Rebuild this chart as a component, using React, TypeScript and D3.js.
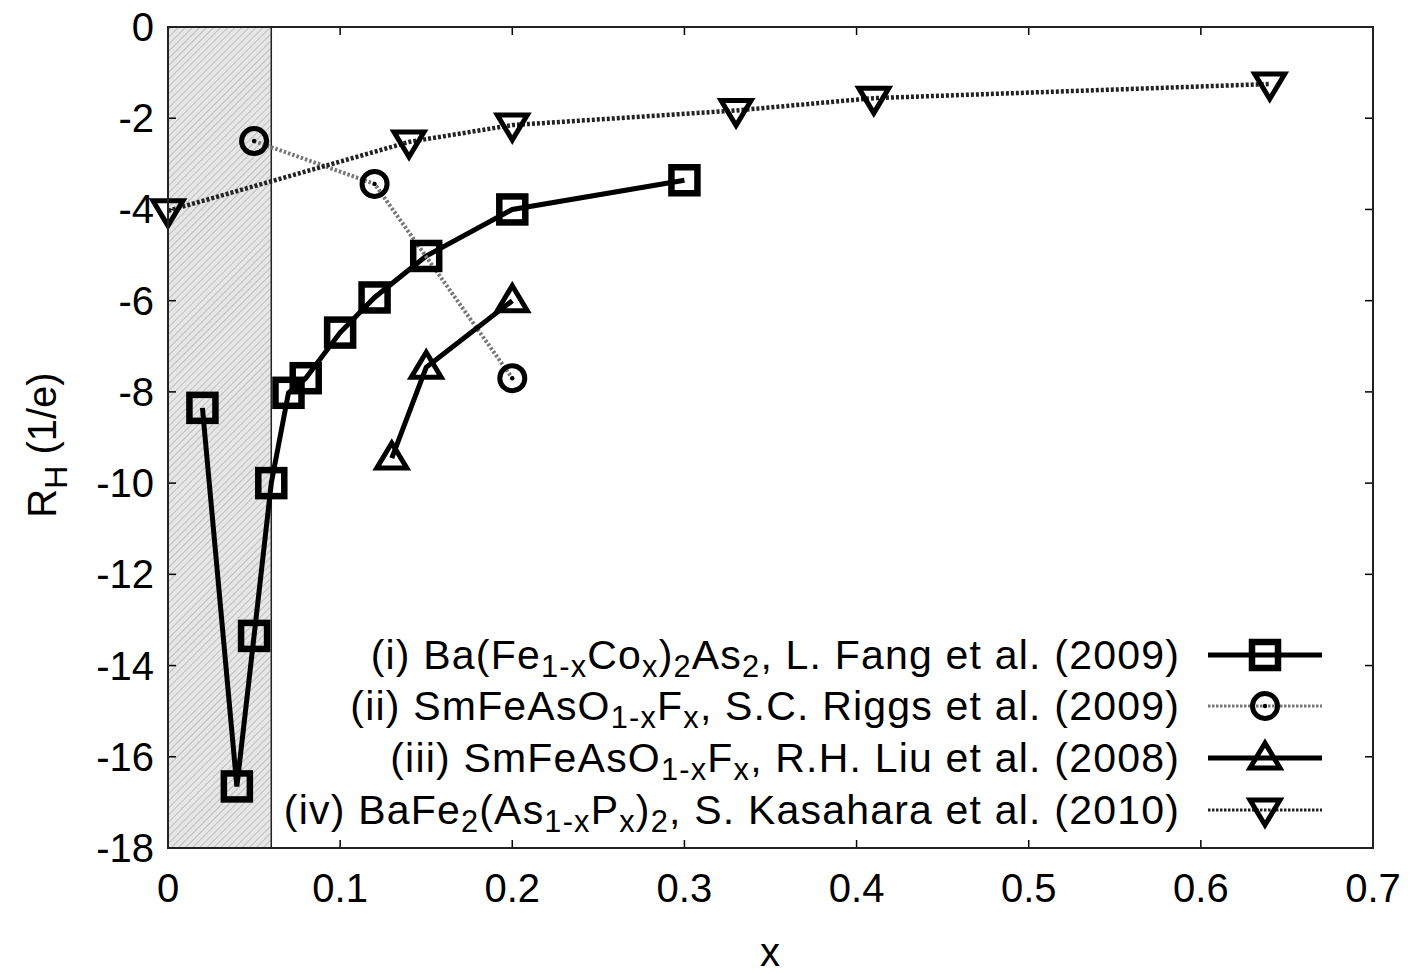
import React from "react";
import * as d3 from "d3";

// series (i) Ba(Fe1-xCox)2As2, L. Fang et al.
const fangX = [0.02, 0.04, 0.05, 0.06, 0.07, 0.08, 0.1, 0.12, 0.15, 0.2, 0.3];
const fangY = [-8.35, -16.65, -13.35, -10.0, -8.02, -7.7, -6.7, -5.93, -5.02, -4.0, -3.36];
// series (ii) SmFeAsO1-xFx, S.C. Riggs et al.
const riggsX = [0.05, 0.12, 0.2];
const riggsY = [-2.5, -3.44, -7.7];
// series (iii) SmFeAsO1-xFx, R.H. Liu et al.
const liuX = [0.13, 0.15, 0.2];
const liuY = [-9.45, -7.46, -6.0];
// series (iv) BaFe2(As1-xPx)2, S. Kasahara et al.
const kasaharaX = [0, 0.14, 0.2, 0.33, 0.41, 0.64];
const kasaharaY = [-4.03, -2.52, -2.15, -1.83, -1.56, -1.25];

const xTicks = [0, 0.1, 0.2, 0.3, 0.4, 0.5, 0.6, 0.7];
const yTicks = [0, -2, -4, -6, -8, -10, -12, -14, -16, -18];
const shadeEnd = 0.06;

type Part = { t: string; sub?: boolean };
const legendLabels: Part[][] = [
  [{ t: "(i) Ba(Fe" }, { t: "1-x", sub: true }, { t: "Co" }, { t: "x", sub: true }, { t: ")" }, { t: "2", sub: true }, { t: "As" }, { t: "2", sub: true }, { t: ", L. Fang et al. (2009)" }],
  [{ t: "(ii) SmFeAsO" }, { t: "1-x", sub: true }, { t: "F" }, { t: "x", sub: true }, { t: ", S.C. Riggs et al. (2009)" }],
  [{ t: "(iii) SmFeAsO" }, { t: "1-x", sub: true }, { t: "F" }, { t: "x", sub: true }, { t: ", R.H. Liu et al. (2008)" }],
  [{ t: "(iv) BaFe" }, { t: "2", sub: true }, { t: "(As" }, { t: "1-x", sub: true }, { t: "P" }, { t: "x", sub: true }, { t: ")" }, { t: "2", sub: true }, { t: ", S. Kasahara et al. (2010)" }],
];

const W = 1412;
const H = 974;
const left = 168;
const right = 1373;
const top = 27;
const bottom = 848;
const font = "'Liberation Sans', Arial, sans-serif";
const fs = 40;
const legendFs = 41;

type Marker = "square" | "circle" | "tri" | "itri";
type Series = { xs: number[]; ys: number[]; marker: Marker; dash?: string; color: string; width: number };

const series: Series[] = [
  { xs: fangX, ys: fangY, marker: "square", color: "#000", width: 5 },
  { xs: riggsX, ys: riggsY, marker: "circle", dash: "2.5 2", color: "#777", width: 4 },
  { xs: liuX, ys: liuY, marker: "tri", color: "#000", width: 5 },
  { xs: kasaharaX, ys: kasaharaY, marker: "itri", dash: "3 2", color: "#222", width: 4.5 },
];

function MarkerShape({ kind, x, y }: { kind: Marker; x: number; y: number }) {
  const common = { fill: "none", stroke: "#000", strokeWidth: 5.5 };
  if (kind === "square") return <rect x={x - 13} y={y - 13} width={26} height={26} {...common} strokeWidth={6.5} />;
  if (kind === "circle")
    return (
      <g>
        <circle cx={x} cy={y} r={12.5} {...common} strokeWidth={5} />
        <circle cx={x} cy={y} r={2.2} fill="#000" />
      </g>
    );
  if (kind === "tri")
    return <path d={`M${x},${y - 15}L${x + 15},${y + 10}L${x - 15},${y + 10}Z`} {...common} strokeWidth={5} strokeLinejoin="miter" />;
  return <path d={`M${x},${y + 15}L${x + 15},${y - 10}L${x - 15},${y - 10}Z`} {...common} strokeWidth={5} strokeLinejoin="miter" />;
}

function RichText({ parts, size, shift = 0.28, subScale = 0.8 }: { parts: Part[]; size: number; shift?: number; subScale?: number }) {
  const out: React.ReactNode[] = [];
  let shifted = false;
  parts.forEach((p, i) => {
    let dy = 0;
    if (p.sub && !shifted) { dy = size * shift; shifted = true; }
    else if (!p.sub && shifted) { dy = -size * shift; shifted = false; }
    out.push(
      <tspan key={i} dy={dy || undefined} fontSize={p.sub ? size * subScale : size}>{p.t}</tspan>
    );
  });
  return <>{out}</>;
}

export default function App() {
  const x = d3.scaleLinear().domain([0, 0.7]).range([left, right]);
  const y = d3.scaleLinear().domain([-18, 0]).range([bottom, top]);
  const line = d3.line<[number, number]>().x((d) => x(d[0])).y((d) => y(d[1]));

  const legendRows = [655, 706, 758, 810];

  return (
    <svg width={W} height={H} style={{ position: "absolute", left: 0, top: 0, background: "#fff" }} fontFamily={font}>
      <defs>
        <pattern id="hatch" width="5" height="5" patternUnits="userSpaceOnUse" patternTransform="rotate(45)">
          <rect width="5" height="5" fill="#e6e6e6" />
          <line x1="0" y1="0" x2="0" y2="5" stroke="#b5b5b5" strokeWidth="1.6" />
        </pattern>
        <clipPath id="plot">
          <rect x={left} y={top} width={right - left} height={bottom - top} />
        </clipPath>
      </defs>
      <rect x={x(0)} y={top} width={x(shadeEnd) - x(0)} height={bottom - top} fill="url(#hatch)" stroke="#222" strokeWidth={1.5} />

      {/* ticks */}
      {xTicks.map((t) => (
        <g key={"x" + t}>
          <line x1={x(t)} x2={x(t)} y1={bottom} y2={bottom - 8} stroke="#000" strokeWidth={1.5} />
          <line x1={x(t)} x2={x(t)} y1={top} y2={top + 8} stroke="#000" strokeWidth={1.5} />
          <text x={x(t)} y={bottom + 54} textAnchor="middle" fontSize={fs}>{t}</text>
        </g>
      ))}
      {yTicks.map((t) => (
        <g key={"y" + t}>
          <line x1={left} x2={left + 8} y1={y(t)} y2={y(t)} stroke="#000" strokeWidth={1.5} />
          <line x1={right} x2={right - 8} y1={y(t)} y2={y(t)} stroke="#000" strokeWidth={1.5} />
          <text x={154} y={y(t) + 14} textAnchor="end" fontSize={fs}>{t}</text>
        </g>
      ))}

      {/* data */}
      <g clipPath="url(#plot)">
        {series.map((s, i) => (
          <path key={i} d={line(s.xs.map((v, j) => [v, s.ys[j]]) as [number, number][]) || ""} fill="none" stroke={s.color} strokeWidth={s.width} strokeDasharray={s.dash} />
        ))}
      </g>
      {series.map((s, i) => (
        <g key={"m" + i}>
          {s.xs.map((v, j) => (
            <MarkerShape key={j} kind={s.marker} x={x(v)} y={y(s.ys[j])} />
          ))}
        </g>
      ))}

      {/* legend */}
      {legendLabels.map((parts, i) => (
        <g key={"l" + i}>
          <text x={1180} y={legendRows[i] + 14} textAnchor="end" fontSize={legendFs} letterSpacing={1.2}>
            <RichText parts={parts} size={legendFs} shift={0.2} subScale={0.75} />
          </text>
          <line x1={1208} x2={1322} y1={legendRows[i]} y2={legendRows[i]} stroke={series[i].color} strokeWidth={series[i].dash ? 3 : 5} strokeDasharray={series[i].dash ? "2.5 1.5" : undefined} />
          <MarkerShape kind={series[i].marker} x={1265} y={legendRows[i]} />
        </g>
      ))}

      <rect x={left} y={top} width={right - left} height={bottom - top} fill="none" stroke="#222" strokeWidth={2} />

      {/* axis labels */}
      <text x={770} y={966} textAnchor="middle" fontSize={fs}>x</text>
      <text transform={`translate(56,445) rotate(-90)`} textAnchor="middle" fontSize={fs}>
        <RichText parts={[{ t: "R" }, { t: "H", sub: true }, { t: " (1/e)" }]} size={fs} />
      </text>
    </svg>
  );
}
